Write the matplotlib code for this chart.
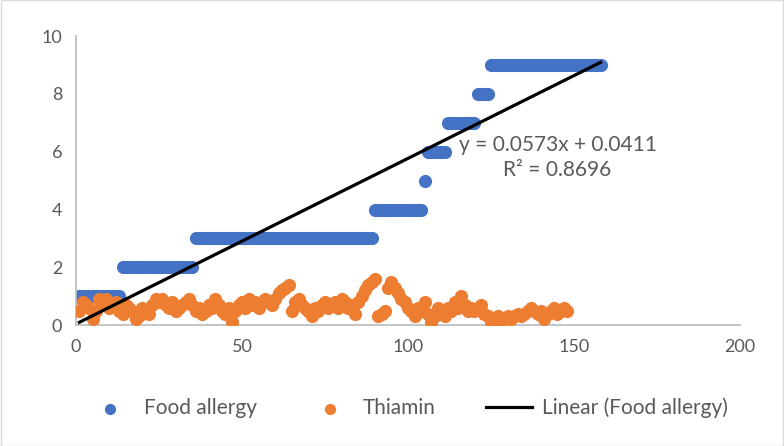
import matplotlib
matplotlib.use("Agg")
import matplotlib.pyplot as plt
import numpy as np

# Food allergy: step levels and how many consecutive points sit on each
allergy_levels = [1, 2, 3, 4, 5, 6, 7, 8, 9]
allergy_counts = [13, 22, 54, 15, 1, 6, 9, 4, 34]

# Thiamin values, x = 1..148
thiamin = [0.5, 0.8, 0.7, 0.6, 0.2, 0.5, 0.9, 0.8, 0.9, 0.6,
           0.7, 0.8, 0.5, 0.4, 0.7, 0.6, 0.5, 0.2, 0.3, 0.6,
           0.5, 0.4, 0.7, 0.9, 0.8, 0.9, 0.7, 0.6, 0.8, 0.5,
           0.6, 0.7, 0.8, 0.9, 0.7, 0.5, 0.6, 0.4, 0.5, 0.7,
           0.6, 0.9, 0.7, 0.5, 0.4, 0.6, 0.1, 0.5, 0.7, 0.8,
           0.6, 0.9, 0.7, 0.8, 0.6, 0.8, 0.9, 0.8, 0.7, 0.9,
           1.1, 1.2, 1.3, 1.4, 0.5, 0.8, 0.9, 0.7, 0.6, 0.5,
           0.3, 0.6, 0.5, 0.7, 0.8, 0.6, 0.7, 0.8, 0.6, 0.9,
           0.8, 0.6, 0.7, 0.4, 0.8, 1.0, 1.2, 1.4, 1.5, 1.6,
           0.3, 0.4, 0.5, 1.3, 1.5, 1.3, 1.1, 0.9, 0.8, 0.6,
           0.5, 0.3, 0.6, 0.5, 0.8, 0.4, 0.1, 0.3, 0.6, 0.5,
           0.3, 0.6, 0.5, 0.8, 0.6, 1.0, 0.7, 0.5, 0.6, 0.5,
           0.6, 0.7, 0.4, 0.3, 0.1, 0.2, 0.3, 0.1, 0.2, 0.3,
           0.2, 0.3, 0.4, 0.3, 0.4, 0.5, 0.6, 0.5, 0.4, 0.5,
           0.2, 0.4, 0.5, 0.6, 0.4, 0.5, 0.6, 0.5]

# trendline from the label
slope = 0.0573
intercept = 0.0411
r2 = 0.8696

allergy = np.repeat(allergy_levels, allergy_counts)
x_allergy = np.arange(1, len(allergy) + 1)
x_thiamin = np.arange(1, len(thiamin) + 1)

plt.rcParams['font.family'] = ['Lato', 'DejaVu Sans']
gris = '#595959'

fig = plt.figure(figsize=(7.84, 4.46), dpi=100)
ax = fig.add_axes([0.097, 0.271, 0.847, 0.648])

ax.scatter(x_allergy, allergy, s=90, color='#4472C4', label='Food allergy',
           zorder=2, linewidths=0)
ax.scatter(x_thiamin, thiamin, s=90, color='#ED7D31', label='Thiamin',
           zorder=3, linewidths=0)
xs = np.array([x_allergy[0], x_allergy[-1]])
ax.plot(xs, slope * xs + intercept, color='black', linewidth=2.3,
        label='Linear (Food allergy)', zorder=4)

# equation de la tendance
ax.text(145, 6.23, f'y = {slope}x + {intercept}', ha='center', va='center',
        fontsize=15, color=gris)
ax.text(145, 5.36, f'R² = {r2}', ha='center', va='center',
        fontsize=15, color=gris)

ax.set_xlim(0, 200)
ax.set_ylim(0, 10)
ax.set_xticks([0, 50, 100, 150, 200])
ax.set_yticks([0, 2, 4, 6, 8, 10])
ax.tick_params(length=0, labelsize=13, colors=gris, pad=10)
for cote in ['top', 'right']:
    ax.spines[cote].set_visible(False)
for cote in ['left', 'bottom']:
    ax.spines[cote].set_color('#BFBFBF')
    ax.spines[cote].set_linewidth(1.3)

fig.legend(loc='lower center', bbox_to_anchor=(0.52, 0.02), ncol=3,
           frameon=False, fontsize=15, labelcolor=gris, handlelength=2.2,
           columnspacing=2.4, handletextpad=0.5, markerscale=0.85)

# bordure du graphique
fig.patches.append(plt.Rectangle((0.001, 0.001), 0.998, 0.998,
                                 transform=fig.transFigure, fill=False,
                                 edgecolor='#D9D9D9', linewidth=1))

plt.savefig('out.png', dpi=100)
